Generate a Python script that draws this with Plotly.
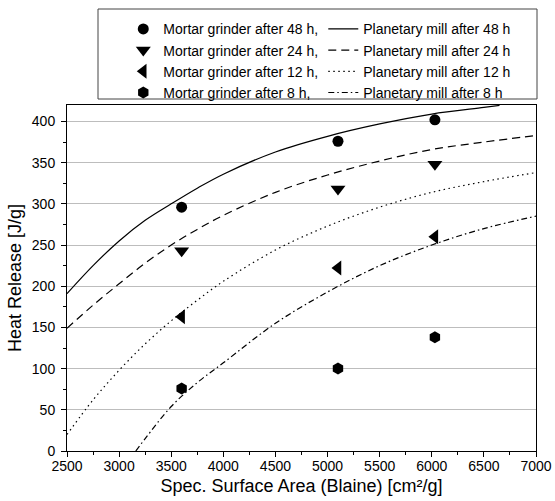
import plotly.graph_objects as go

# Measured points (mortar grinder)
mortar_x = [3600, 5100, 6030]
mortar_48h = [296, 376, 402]
mortar_24h = [243, 318, 348]
mortar_12h = [163, 222, 260]
mortar_8h = [76, 100, 138]

# Planetary mill curves
mill_48h_x = [2500, 2750, 3000, 3250, 3500, 3750, 4000, 4500, 5000, 5500, 6000, 6500, 6650]
mill_48h_y = [191, 225, 255, 280, 300, 319, 336, 363, 382, 397, 409, 417, 419.5]
mill_24h_x = [2500, 2750, 3000, 3250, 3500, 3750, 4000, 4500, 5000, 5500, 6000, 6500, 7000]
mill_24h_y = [149, 177, 203, 228, 250, 269, 286, 314, 335, 352, 366, 375, 383]
mill_12h_x = [2500, 2750, 3000, 3250, 3500, 3750, 4000, 4500, 5000, 5500, 6000, 6500, 7000]
mill_12h_y = [20, 62, 98, 130, 158, 183, 206, 244, 273, 296, 314, 327, 338]
mill_8h_x = [3160, 3250, 3500, 3750, 4000, 4500, 5000, 5500, 6000, 6500, 7000]
mill_8h_y = [0, 15, 54, 83, 107, 155, 193, 225, 250, 270, 285]

x_ticks = [2500, 3000, 3500, 4000, 4500, 5000, 5500, 6000, 6500, 7000]
y_ticks = [0, 50, 100, 150, 200, 250, 300, 350, 400]

FONT = "Liberation Sans, Arial, sans-serif"

series = [
    ("48 h", mortar_48h, "circle", 11, mill_48h_x, mill_48h_y, "solid"),
    ("24 h", mortar_24h, "triangle-down", 13, mill_24h_x, mill_24h_y, "8px,5px"),
    ("12 h", mortar_12h, "triangle-left", 13, mill_12h_x, mill_12h_y, "1.5px,3.5px"),
    ("8 h", mortar_8h, "hexagon", 12, mill_8h_x, mill_8h_y, "6px,3px,1.5px,3px"),
]

fig = go.Figure()
for label, my, sym, size, lx, ly, dash in series:
    fig.add_trace(go.Scatter(
        x=mortar_x, y=my, mode="markers",
        name=f"Mortar grinder after {label},",
        marker=dict(symbol=sym, size=size, color="black", line=dict(width=0)),
    ))
    fig.add_trace(go.Scatter(
        x=lx, y=ly, mode="lines", line_shape="spline",
        name=f"Planetary mill after {label}",
        line=dict(color="black", width=1.2, dash=dash),
    ))

fig.update_layout(
    width=555, height=501,
    margin=dict(l=67, r=19, t=105, b=50, autoexpand=False),
    paper_bgcolor="white", plot_bgcolor="white",
    font=dict(family=FONT, size=14, color="black"),
    showlegend=True,
    legend=dict(
        orientation="h", x=0.12, y=1.265, xanchor="left", yanchor="top",
        entrywidth=155, entrywidthmode="pixels",
        bgcolor="rgba(0,0,0,0)", borderwidth=0,
        font=dict(family=FONT, size=14, color="black"),
        tracegroupgap=0,
    ),
    shapes=[dict(type="rect", xref="paper", yref="paper",
                 x0=(98 - 67) / 469, x1=(537 - 67) / 469,
                 y0=(451 - 99) / 346, y1=(451 - 9) / 346,
                 line=dict(color="#444444", width=1))],
)

fig.update_xaxes(
    range=[2500, 7000], tickvals=x_ticks, ticks="outside", ticklen=5, tickwidth=1,
    tickcolor="black", showline=True, linecolor="black", linewidth=1, mirror=True,
    showgrid=False, zeroline=False, automargin=False, ticklabelstandoff=-3,
    minor=dict(dtick=250, ticks="outside", ticklen=3, tickcolor="black", showgrid=False),
    tickfont=dict(size=14),
    title=dict(text="Spec. Surface Area (Blaine) [cm²/g]", font=dict(size=18), standoff=6),
)
fig.update_yaxes(
    range=[0, 420], tickvals=y_ticks, ticks="outside", ticklen=5, tickwidth=1,
    tickcolor="black", showline=True, linecolor="black", linewidth=1, mirror=True,
    showgrid=True, gridcolor="#bdbdbd", gridwidth=1, zeroline=False, automargin=False,
    ticklabelstandoff=3,
    minor=dict(dtick=25, ticks="outside", ticklen=3, tickcolor="black", showgrid=False),
    tickfont=dict(size=14),
    title=dict(text="Heat Release [J/g]", font=dict(size=18), standoff=5),
)

fig.write_html("out.html", post_script="document.body.style.margin='0';",
               config={"displayModeBar": False})
